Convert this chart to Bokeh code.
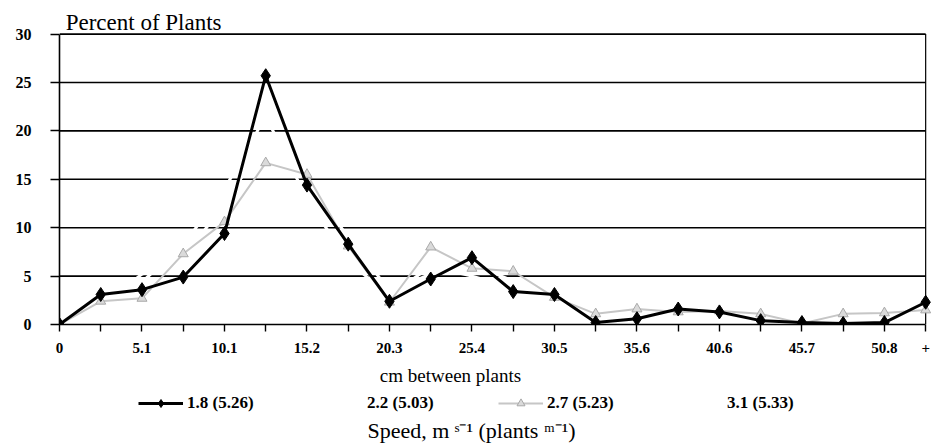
from bokeh.plotting import figure
from bokeh.layouts import column
from bokeh.models import Range1d, FixedTicker, Label, Legend, LegendItem, ColumnDataSource
from bokeh.embed import file_html
from bokeh.resources import INLINE

# ---- data ----
categories = ["0", "2.5", "5.1", "7.6", "10.1", "12.7", "15.2", "17.8", "20.3", "22.9", "25.4",
              "27.9", "30.5", "33.0", "35.6", "38.1", "40.6", "43.2", "45.7", "48.3", "50.8", "+"]
shown_labels = ["0", "5.1", "10.1", "15.2", "20.3", "25.4", "30.5", "35.6", "40.6", "45.7", "50.8", "+"]
speed_18 = [0, 3.1, 3.6, 4.9, 9.4, 25.7, 14.4, 8.3, 2.4, 4.7, 6.9, 3.4, 3.1, 0.2, 0.6, 1.6, 1.3, 0.4, 0.2, 0.1, 0.2, 2.3]
speed_22 = [0, 2.6, 4.4, 8.2, 14.0, 21.5, 13.0, 6.5, 3.0, 6.0, 5.0, 3.8, 2.6, 0.8, 1.3, 1.8, 1.0, 0.7, 0.5, 1.0, 1.4, 1.9]
speed_27 = [0, 2.4, 2.7, 7.3, 10.6, 16.7, 15.5, 8.1, 2.3, 8.0, 5.8, 5.5, 2.8, 1.1, 1.6, 1.3, 1.4, 1.1, 0.1, 1.1, 1.2, 1.5]
speed_31 = [0, 2.0, 5.2, 6.8, 12.5, 19.0, 15.0, 9.0, 3.5, 5.2, 6.2, 4.5, 2.4, 0.9, 1.1, 1.4, 1.6, 0.9, 0.3, 1.3, 1.0, 2.0]
series_names = ["1.8 (5.26)", "2.2 (5.03)", "2.7 (5.23)", "3.1 (5.33)"]
y_ticks = [0, 5, 10, 15, 20, 25, 30]

idx = list(range(len(categories)))
src = ColumnDataSource(dict(x=idx, s18=speed_18, s22=speed_22, s27=speed_27, s31=speed_31))

SERIF = "Liberation Serif"

# styles
BLACK_LINE = dict(line_color="black", line_width=3)
BLACK_PTS = dict(marker="diamond", size=14, fill_color="black", line_color="black")
GRAY_LINE = dict(line_color="#c6c6c6", line_width=2)
GRAY_PTS = dict(marker="triangle", size=10, fill_color="#dadada", line_color="#a9a9a9", line_width=1)
WHITE_LINE = dict(line_color="white", line_width=3)

# ---------------- main chart ----------------
p = figure(width=933, height=360, output_backend="svg", toolbar_location=None,
           x_range=Range1d(0, 21.19), y_range=Range1d(0, 33.47),
           min_border_left=59, min_border_right=0, min_border_top=0, min_border_bottom=36)
p.outline_line_color = None
p.xgrid.visible = False
p.ygrid.visible = False
p.background_fill_color = "white"

last = idx[-1]
gy = [v for v in y_ticks if v > 0]
p.segment(x0=[0] * len(gy), x1=[last] * len(gy), y0=gy, y1=gy, line_color="black", line_width=1.6)
p.segment(x0=[last], x1=[last], y0=[0], y1=[y_ticks[-1]], line_color="black", line_width=1.2)

p.line("x", "s22", source=src, **WHITE_LINE)
p.line("x", "s31", source=src, **WHITE_LINE)
p.line("x", "s27", source=src, **GRAY_LINE)
p.scatter("x", "s27", source=src, **GRAY_PTS)
p.line("x", "s18", source=src, **BLACK_LINE)
p.scatter("x", "s18", source=src, **BLACK_PTS)

p.xaxis.ticker = FixedTicker(ticks=idx)
p.xaxis.major_label_overrides = {i: (c if c in shown_labels else "") for i, c in zip(idx, categories)}
p.xaxis.bounds = (0, last)
p.xaxis.axis_line_color = "black"
p.xaxis.axis_line_width = 1.6
p.xaxis.major_tick_line_color = "black"
p.xaxis.major_tick_line_width = 1.4
p.xaxis.major_tick_out = 7
p.xaxis.major_tick_in = 0
p.xaxis.minor_tick_line_color = None
p.xaxis.major_label_standoff = 11
p.xaxis.major_label_text_font = SERIF
p.xaxis.major_label_text_font_style = "bold"
p.xaxis.major_label_text_font_size = "15px"
p.xaxis.major_label_text_color = "black"

p.yaxis.ticker = FixedTicker(ticks=y_ticks)
p.yaxis.bounds = (0, y_ticks[-1])
p.yaxis.axis_line_color = "black"
p.yaxis.axis_line_width = 1.6
p.yaxis.major_tick_line_color = "black"
p.yaxis.major_tick_line_width = 1.6
p.yaxis.major_tick_out = 9
p.yaxis.major_tick_in = 0
p.yaxis.minor_tick_line_color = None
p.yaxis.major_label_standoff = 19
p.yaxis.major_label_text_font = SERIF
p.yaxis.major_label_text_font_style = "bold"
p.yaxis.major_label_text_font_size = "16px"
p.yaxis.major_label_text_color = "black"

p.add_layout(Label(x=0.15, y=31.2, text="Percent of Plants", text_font=SERIF,
                   text_font_size="23px", text_color="black", text_baseline="alphabetic"))

# ---------------- footer: axis title, legend, speed title ----------------
# (its frame is aligned with the chart's frame: x from 59 to 933 page px)
q = figure(width=933, height=86, output_backend="svg", toolbar_location=None,
           x_range=Range1d(59, 933), y_range=Range1d(86, 0),
           x_axis_type=None, y_axis_type=None,
           min_border_left=59, min_border_right=0, min_border_top=0, min_border_bottom=0)
q.outline_line_color = None
q.xgrid.visible = False
q.ygrid.visible = False

q.add_layout(Label(x=450, y=15, text="cm between plants", text_font=SERIF,
                   text_font_size="19px", text_color="black", text_align="center",
                   text_baseline="alphabetic"))
q.add_layout(Label(x=471, y=70, text="Speed, m \u02e2\u207b\u00b9 (plants \u1d50\u207b\u00b9)",
                   text_font=SERIF, text_font_size="22px", text_color="black",
                   text_align="center", text_baseline="alphabetic"))

# legend renderers: same series and styles, lying outside this footer's visible range
l18 = q.line("x", "s18", source=src, **BLACK_LINE)
m18 = q.scatter("x", "s18", source=src, **BLACK_PTS)
l22 = q.line("x", "s22", source=src, **WHITE_LINE)
l27 = q.line("x", "s27", source=src, **GRAY_LINE)
m27 = q.scatter("x", "s27", source=src, **GRAY_PTS)
l31 = q.line("x", "s31", source=src, **WHITE_LINE)

legend = Legend(items=[
    LegendItem(label=series_names[0], renderers=[l18, m18]),
    LegendItem(label=series_names[1], renderers=[l22]),
    LegendItem(label=series_names[2], renderers=[l27, m27]),
    LegendItem(label=series_names[3], renderers=[l31]),
], orientation="horizontal", location=(79, 33))
legend.glyph_width = 45
legend.glyph_height = 20
legend.label_standoff = 4
legend.label_width = 126
legend.spacing = 5
legend.padding = 0
legend.margin = 0
legend.border_line_alpha = 0
legend.background_fill_alpha = 0
legend.label_text_font = SERIF
legend.label_text_font_style = "bold"
legend.label_text_font_size = "17px"
legend.label_text_color = "black"
q.add_layout(legend, "center")

layout = column(p, q, spacing=0)
open("out.html", "w").write(file_html(layout, INLINE))
